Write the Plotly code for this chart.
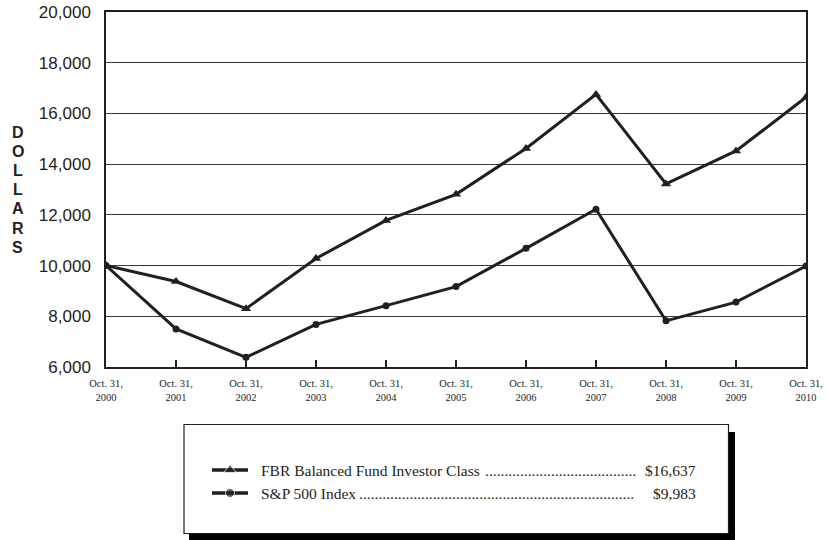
import plotly.graph_objects as go

W, H = 827, 540

years = [2000, 2001, 2002, 2003, 2004, 2005, 2006, 2007, 2008, 2009, 2010]
x_labels = ["Oct. 31,<br>%d" % y for y in years]
fbr = [10000, 9370, 8300, 10280, 11780, 12810, 14620, 16750, 13220, 14520, 16637]
sp500 = [10000, 7500, 6380, 7680, 8420, 9170, 10680, 12220, 7820, 8560, 9983]
y_ticks = [6000, 8000, 10000, 12000, 14000, 16000, 18000, 20000]

legend_names = ["FBR Balanced Fund Investor Class", "S&P 500 Index"]
legend_values = ["$16,637", "$9,983"]
legend_dots = [39, 71]
legend_symbols = ["triangle-up", "circle"]

INK = "#231f20"

def px_x(p):
    return p / W

def px_y(p):
    return 1 - p / H

fig = go.Figure()

fig.add_trace(go.Scatter(
    x=years, y=fbr, mode="lines+markers",
    line=dict(color=INK, width=3),
    marker=dict(symbol="triangle-up", size=9, color=INK),
    showlegend=False, xaxis="x", yaxis="y"))
fig.add_trace(go.Scatter(
    x=years, y=sp500, mode="lines+markers",
    line=dict(color=INK, width=3),
    marker=dict(symbol="circle", size=7, color=INK),
    showlegend=False, xaxis="x", yaxis="y"))

# legend samples on a hidden axis
for i, sym in enumerate(legend_symbols):
    fig.add_trace(go.Scatter(
        x=[0, 0.5, 1], y=[i, i, i], mode="lines+markers",
        line=dict(color=INK, width=3.5),
        marker=dict(symbol=sym, size=[0, 11 if sym == "triangle-up" else 9, 0], color=INK),
        showlegend=False, xaxis="x2", yaxis="y2", hoverinfo="skip"))

shapes = [
    dict(type="rect", xref="paper", yref="paper",
         x0=px_x(189), x1=px_x(735), y0=px_y(541), y1=px_y(432),
         fillcolor="black", line=dict(width=0), layer="below"),
    dict(type="rect", xref="paper", yref="paper",
         x0=px_x(184), x1=px_x(728.5), y0=px_y(533.5), y1=px_y(424.5),
         fillcolor="white", line=dict(color=INK, width=1.2), layer="below"),
]

annotations = []
row_y = [470, 493]
dot_end = [637.5, 635.5]
for i in range(2):
    annotations.append(dict(
        x=px_x(259), y=px_y(row_y[i]), xref="paper", yref="paper",
        xanchor="left", yanchor="middle", showarrow=False,
        text=legend_names[i],
        font=dict(family="Liberation Serif", size=15.5, color=INK)))
    annotations.append(dict(
        x=px_x(dot_end[i]), y=px_y(row_y[i]), xref="paper", yref="paper",
        xanchor="right", yanchor="middle", showarrow=False,
        text="." * legend_dots[i],
        font=dict(family="Liberation Serif", size=15.5, color=INK)))
    annotations.append(dict(
        x=px_x(698), y=px_y(row_y[i]), xref="paper", yref="paper",
        xanchor="right", yanchor="middle", showarrow=False,
        text=legend_values[i],
        font=dict(family="Liberation Serif", size=15.5, color=INK)))

for k, ch in enumerate("DOLLARS"):
    annotations.append(dict(
        x=px_x(17.5), y=px_y(132 + k * 19.2), xref="paper", yref="paper",
        xanchor="center", yanchor="middle", showarrow=False,
        text="<b>%s</b>" % ch,
        font=dict(family="Liberation Sans", size=16, color=INK)))

fig.update_layout(
    width=W, height=H,
    margin=dict(l=0, r=0, t=0, b=0, autoexpand=False),
    paper_bgcolor="white", plot_bgcolor="white",
    showlegend=False,
    shapes=shapes, annotations=annotations,
    xaxis=dict(
        domain=[px_x(106), px_x(806)], anchor="y", automargin=False,
        range=[2000, 2010], tickvals=years, ticktext=x_labels,
        showgrid=False, zeroline=False,
        showline=True, linecolor=INK, linewidth=1.5, mirror=True,
        ticks="inside", ticklen=7, tickwidth=1.5, tickcolor=INK,
        ticklabelstandoff=6,
        tickfont=dict(family="Liberation Serif", size=10.5, color=INK)),
    yaxis=dict(
        domain=[px_y(367), px_y(12)], anchor="x", automargin=False,
        range=[6000, 20000], tickvals=y_ticks, tickformat=",d",
        showgrid=True, gridcolor="#3a3a3a", gridwidth=1,
        zeroline=False,
        showline=True, linecolor=INK, linewidth=1.5, mirror=True,
        ticks="", ticklabelstandoff=10,
        tickfont=dict(family="Liberation Sans", size=17, color=INK)),
    xaxis2=dict(domain=[px_x(212), px_x(248)], anchor="y2", range=[0, 1],
                visible=False, fixedrange=True, automargin=False),
    yaxis2=dict(domain=[px_y(498), px_y(465)], anchor="x2", range=[1.22, -0.22],
                visible=False, fixedrange=True, automargin=False),
)

fig.write_html("out.html")
